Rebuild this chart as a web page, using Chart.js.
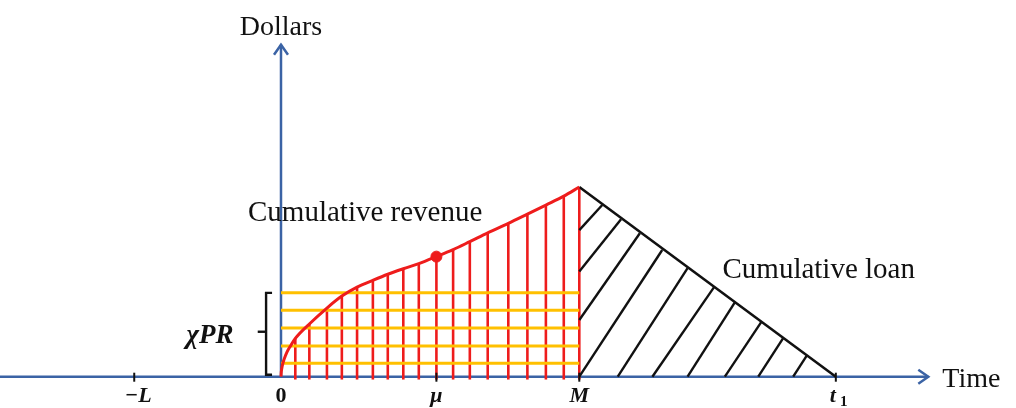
<!DOCTYPE html>
<html lang="en">
<head>
<meta charset="UTF-8">
<title>Cumulative revenue and loan</title>
<style>
  body { margin: 0; background: #fff; }
  #box { width: 1016px; height: 408px; }
</style>
</head>
<body>
<div id="box"><canvas id="cashChart"></canvas></div>
<script src="https://cdn.jsdelivr.net/npm/chart.js"></script>
<script>
    // revenue curve: steep start, then the points where the red stripes stand
    const leadX = [0, 0.01, 0.04, 0.1, 0.2, 0.33];
    const leadY = [0, 0.25, 0.55, 0.9, 1.3, 1.65];
    const stripeX = [0.48, 0.95, 1.54, 2.04, 2.55, 3.08, 3.58, 4.10, 4.62, 5.21, 5.77, 6.33, 6.93, 7.62, 8.26, 8.88, 9.48, 10];
    const stripeY = [2.02, 2.78, 3.62, 4.25, 4.72, 5.08, 5.40, 5.69, 5.96, 6.33, 6.70, 7.12, 7.58, 8.08, 8.57, 9.05, 9.52, 10];
    const muIndex = 9;

    // chi*P*R band, drawn as gold lines from 0 to M
    const chiPRLevels = [0.71, 1.62, 2.57, 3.50, 4.43];

    // cumulative loan: from the top at M down to t1
    const loanX = [10, 18.6];
    const loanY = [10, 0];
    const hatchStartX = [10, 10, 10, 10, 11.29, 12.45, 13.63, 14.88, 16.0, 17.17];
    const hatchStartY = [7.73, 5.54, 2.99, 0, 0, 0, 0, 0, 0, 0];
    const hatchEndX = [10.77, 11.40, 12.03, 12.78, 13.63, 14.53, 15.22, 16.11, 16.84, 17.62];
    const hatchEndY = [9.05, 8.30, 7.56, 6.68, 5.72, 4.75, 3.93, 2.90, 2.05, 1.10];

    // time axis marks
    const tickNames = ['\u2212L', '0', '\u03bc', 'M', 't'];
    const tickValues = [-4.92, 0, 5.21, 10, 18.6];
    const timeEnd = 21.7;
    const dollarsEnd = 17.5;

    const RED = '#ee1c1c';
    const GOLD = '#ffc000';
    const BLUE = '#3b63a5';
    const INK = '#111';
    const SERIF = '"Liberation Serif", "DejaVu Serif", serif';

    function seg(x1, y1, x2, y2, color, width, order) {
        return {
            data: [{x: x1, y: y1}, {x: x2, y: y2}],
            showLine: true,
            borderColor: color,
            borderWidth: width,
            pointRadius: 0,
            order: order
        };
    }

    let datasets = [];

    // the revenue curve itself
    let curve = [];
    for (let i = 0; i < leadX.length; i++) curve.push({x: leadX[i], y: leadY[i]});
    for (let i = 0; i < stripeX.length; i++) curve.push({x: stripeX[i], y: stripeY[i]});
    datasets.push({
        data: curve,
        showLine: true,
        borderColor: RED,
        borderWidth: 3,
        cubicInterpolationMode: 'monotone',
        pointRadius: 0,
        order: 1
    });

    // dot at mu
    datasets.push({
        data: [{x: stripeX[muIndex], y: stripeY[muIndex]}],
        showLine: false,
        pointRadius: 5.5,
        pointBackgroundColor: RED,
        pointBorderColor: RED,
        order: 0
    });

    // gold lines sit on top of the red stripes
    chiPRLevels.forEach(v => datasets.push(seg(0, v, 10, v, GOLD, 3, 2)));
    stripeX.forEach((sx, i) => datasets.push(seg(sx, -0.15, sx, stripeY[i], RED, 2.6, 3)));

    // loan triangle edge and hatching
    datasets.push(seg(loanX[0], loanY[0], loanX[1], loanY[1], INK, 2.6, 1));
    hatchStartX.forEach((hx, i) => datasets.push(seg(hx, hatchStartY[i], hatchEndX[i], hatchEndY[i], INK, 2.4, 1)));

    // bracket beside the y axis for chi*P*R
    datasets.push({
        data: [{x: -0.3, y: 4.42}, {x: -0.5, y: 4.42}, {x: -0.5, y: 0.1}, {x: -0.3, y: 0.1}],
        showLine: true, borderColor: INK, borderWidth: 2.4, pointRadius: 0, order: 1
    });
    datasets.push(seg(-0.5, 2.37, -0.78, 2.37, INK, 2.4, 1));

    const sketchAxes = {
        id: 'sketchAxes',
        beforeDatasetsDraw(chart) {
            const {ctx, chartArea, scales: {x, y}} = chart;
            const x0 = x.getPixelForValue(0), y0 = y.getPixelForValue(0);
            const xEnd = x.getPixelForValue(timeEnd), yEnd = y.getPixelForValue(dollarsEnd);
            ctx.save();
            ctx.strokeStyle = BLUE;
            ctx.lineWidth = 2.5;
            ctx.beginPath();
            ctx.moveTo(chartArea.left, y0);
            ctx.lineTo(xEnd, y0);
            ctx.moveTo(x0, y0);
            ctx.lineTo(x0, yEnd);
            ctx.stroke();
            // open arrow heads
            ctx.beginPath();
            ctx.moveTo(xEnd - 10, y0 - 7);
            ctx.lineTo(xEnd, y0);
            ctx.lineTo(xEnd - 10, y0 + 7);
            ctx.moveTo(x0 - 7, yEnd + 10);
            ctx.lineTo(x0, yEnd);
            ctx.lineTo(x0 + 7, yEnd + 10);
            ctx.stroke();
            ctx.restore();
        },
        afterDatasetsDraw(chart) {
            const {ctx, scales: {x, y}} = chart;
            const x0 = x.getPixelForValue(0), y0 = y.getPixelForValue(0);
            const xEnd = x.getPixelForValue(timeEnd), yEnd = y.getPixelForValue(dollarsEnd);
            ctx.save();
            ctx.fillStyle = INK;
            ctx.strokeStyle = INK;
            ctx.lineWidth = 2;

            // small tick marks on the time axis
            tickValues.forEach(v => {
                if (v === 0) return;
                const px = x.getPixelForValue(v);
                ctx.beginPath();
                ctx.moveTo(px, y0 - 4);
                ctx.lineTo(px, y0 + 5);
                ctx.stroke();
            });

            ctx.textBaseline = 'alphabetic';
            ctx.textAlign = 'center';
            tickNames.forEach((name, i) => {
                const px = x.getPixelForValue(tickValues[i]);
                ctx.font = (name === '0' ? 'bold ' : 'bold italic ') + '22px ' + SERIF;
                if (name === 't') {
                    ctx.fillText(name, px - 3, y0 + 25);
                    ctx.font = 'bold 15px ' + SERIF;
                    ctx.fillText('1', px + 8, y0 + 29);
                } else if (name === '\u2212L') {
                    ctx.fillText(name, px + 4, y0 + 25);
                } else {
                    ctx.fillText(name, px, y0 + 25);
                }
            });

            ctx.font = '28px ' + SERIF;
            ctx.fillText('Dollars', x0, yEnd - 10);
            ctx.textAlign = 'left';
            ctx.fillText('Time', xEnd + 14, y0 + 10);

            ctx.font = '29px ' + SERIF;
            ctx.fillText('Cumulative revenue', x0 - 33, y.getPixelForValue(8.2));
            ctx.fillText('Cumulative loan', x.getPixelForValue(14.8), y.getPixelForValue(5.2));

            ctx.textAlign = 'center';
            ctx.font = 'bold italic 27px ' + SERIF;
            ctx.fillText('\u03c7PR', x0 - 71, y0 - 34);
            ctx.restore();
        }
    };

    const chart = new Chart(document.getElementById('cashChart'), {
        type: 'scatter',
        data: {datasets: datasets},
        options: {
            responsive: true,
            maintainAspectRatio: false,
            animation: false,
            layout: {padding: 0, autoPadding: false},
            plugins: {
                legend: {display: false},
                tooltip: {enabled: false}
            },
            scales: {
                x: {type: 'linear', display: false, min: -9.42, max: 24.64},
                y: {type: 'linear', display: false, min: -1.65, max: 19.86}
            }
        },
        plugins: [sketchAxes]
    });
</script>
</body>
</html>
